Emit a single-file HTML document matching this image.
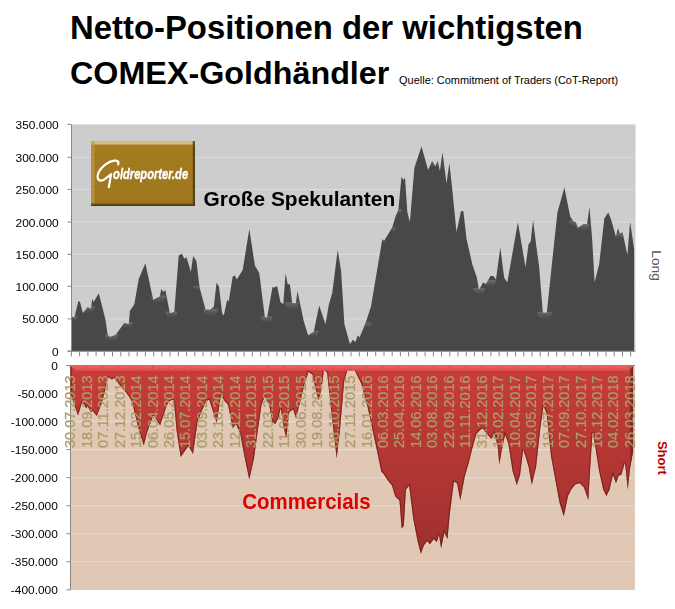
<!DOCTYPE html>
<html><head><meta charset="utf-8"><style>
html,body{margin:0;padding:0;background:#fff;width:675px;height:609px;overflow:hidden}
svg{display:block;font-family:"Liberation Sans",sans-serif}
</style></head><body>
<svg width="675" height="609" viewBox="0 0 675 609">
<defs>
<linearGradient id="rg" gradientUnits="userSpaceOnUse" x1="0" y1="368" x2="0" y2="560"><stop offset="0" stop-color="#c83c39"/><stop offset="1" stop-color="#9c302e"/></linearGradient>
<linearGradient id="lg" x1="0" y1="0" x2="0" y2="1"><stop offset="0" stop-color="#a47b20"/><stop offset="1" stop-color="#9e771d"/></linearGradient>
<linearGradient id="lgb" x1="0" y1="0" x2="0" y2="1"><stop offset="0" stop-color="#9e771d" stop-opacity="0"/><stop offset="1" stop-color="#1a1000"/></linearGradient>
<linearGradient id="lgr" x1="0" y1="0" x2="1" y2="0"><stop offset="0" stop-color="#9e771d" stop-opacity="0"/><stop offset="1" stop-color="#1a1000"/></linearGradient>
<filter id="sh" x="-5%" y="-5%" width="110%" height="110%"><feGaussianBlur stdDeviation="0.6"/></filter>
</defs>
<text x="70.1" y="38.9" font-family="Liberation Sans" font-weight="bold" font-size="32.42" textLength="512.82" lengthAdjust="spacingAndGlyphs" fill="#000">Netto-Positionen der wichtigsten</text>
<text x="70.05" y="83.5" font-family="Liberation Sans" font-weight="bold" font-size="32" textLength="319.3" lengthAdjust="spacingAndGlyphs" fill="#000">COMEX-Goldhändler</text>
<text x="399.1" y="83.9" font-family="Liberation Sans" font-size="10.2" textLength="219.07" lengthAdjust="spacingAndGlyphs" fill="#000">Quelle: Commitment of Traders (CoT-Report)</text>
<rect x="71.5" y="124.4" width="564.0" height="226.79999999999998" fill="#cdcdcd"/>
<line x1="71.5" y1="318.9" x2="635.5" y2="318.9" stroke="#dadada" stroke-width="1.2"/>
<line x1="71.5" y1="286.3" x2="635.5" y2="286.3" stroke="#dadada" stroke-width="1.2"/>
<line x1="71.5" y1="254.4" x2="635.5" y2="254.4" stroke="#dadada" stroke-width="1.2"/>
<line x1="71.5" y1="222.1" x2="635.5" y2="222.1" stroke="#dadada" stroke-width="1.2"/>
<line x1="71.5" y1="189.4" x2="635.5" y2="189.4" stroke="#dadada" stroke-width="1.2"/>
<line x1="71.5" y1="157.3" x2="635.5" y2="157.3" stroke="#dadada" stroke-width="1.2"/>
<path d="M71.5,351.2 L71.5,316.5 L74.4,317.6 L78.4,301.0 L80.0,302.0 L82.9,313.0 L87.7,307.2 L91.0,308.7 L92.2,298.8 L93.7,302.0 L98.8,293.2 L105.5,319.8 L107.7,335.3 L110.0,337.1 L115.5,334.9 L124.3,323.1 L128.8,324.3 L129.9,311.0 L134.3,304.3 L138.8,278.8 L145.4,263.3 L153.2,299.9 L159.8,296.5 L161.4,288.8 L163.2,292.1 L165.4,289.9 L169.8,313.2 L174.3,312.1 L178.7,255.5 L182.0,253.7 L184.2,258.8 L186.5,257.3 L190.9,272.1 L193.1,255.9 L196.4,261.0 L199.6,287.5 L205.6,309.8 L210.5,309.8 L213.9,306.5 L216.5,282.8 L219.0,286.5 L222.1,313.2 L223.8,315.4 L227.2,299.4 L228.7,301.6 L232.7,276.6 L234.9,275.5 L236.7,279.5 L242.7,269.9 L249.3,228.9 L254.9,265.5 L259.3,273.2 L264.9,317.6 L267.1,317.6 L272.6,286.5 L273.7,287.7 L277.1,286.1 L280.4,302.1 L283.3,304.3 L285.5,273.2 L287.7,284.3 L289.9,284.3 L292.2,303.2 L295.9,303.2 L297.5,291.0 L298.8,297.6 L303.7,320.9 L308.1,335.3 L313.7,332.0 L319.2,305.4 L325.5,324.3 L328.9,304.3 L332.2,293.2 L337.7,249.9 L341.1,271.0 L344.4,324.3 L350.0,344.2 L352.8,339.8 L355.5,342.0 L357.7,335.3 L359.5,337.6 L365.5,323.2 L371.0,306.5 L378.8,259.9 L382.4,238.9 L384.0,241.1 L392.2,227.6 L395.5,216.5 L398.4,209.9 L401.5,176.6 L403.3,179.9 L405.0,177.7 L407.3,212.1 L409.9,222.1 L414.4,167.7 L421.5,146.6 L428.1,169.9 L432.1,161.1 L435.4,166.6 L437.7,161.1 L439.9,171.0 L442.5,152.2 L446.5,183.2 L449.4,163.3 L452.1,187.7 L456.5,232.0 L461.0,211.0 L463.4,211.3 L466.5,238.7 L472.3,264.2 L476.9,277.8 L479.0,290.0 L483.0,282.4 L486.0,283.9 L490.6,275.7 L493.6,276.3 L496.0,279.4 L500.3,247.5 L504.2,277.8 L507.3,282.4 L517.9,222.2 L525.5,267.2 L528.5,244.4 L530.7,241.4 L533.1,220.1 L536.1,244.4 L539.2,267.2 L542.8,312.8 L546.8,312.8 L551.9,264.2 L557.4,212.5 L564.4,187.6 L570.2,216.6 L573.4,221.6 L575.8,222.2 L577.9,227.7 L584.0,224.0 L587.0,224.6 L589.5,207.0 L592.2,239.8 L594.6,282.3 L599.2,264.1 L604.3,218.6 L608.3,212.5 L611.3,220.1 L615.9,236.8 L618.0,228.3 L619.8,233.7 L622.5,232.2 L627.4,255.0 L630.1,221.6 L634.1,248.9 L634.1,351.2 Z" fill="#484848"/>
<clipPath id="tc"><path d="M71.5,351.2 L71.5,316.5 L74.4,317.6 L78.4,301.0 L80.0,302.0 L82.9,313.0 L87.7,307.2 L91.0,308.7 L92.2,298.8 L93.7,302.0 L98.8,293.2 L105.5,319.8 L107.7,335.3 L110.0,337.1 L115.5,334.9 L124.3,323.1 L128.8,324.3 L129.9,311.0 L134.3,304.3 L138.8,278.8 L145.4,263.3 L153.2,299.9 L159.8,296.5 L161.4,288.8 L163.2,292.1 L165.4,289.9 L169.8,313.2 L174.3,312.1 L178.7,255.5 L182.0,253.7 L184.2,258.8 L186.5,257.3 L190.9,272.1 L193.1,255.9 L196.4,261.0 L199.6,287.5 L205.6,309.8 L210.5,309.8 L213.9,306.5 L216.5,282.8 L219.0,286.5 L222.1,313.2 L223.8,315.4 L227.2,299.4 L228.7,301.6 L232.7,276.6 L234.9,275.5 L236.7,279.5 L242.7,269.9 L249.3,228.9 L254.9,265.5 L259.3,273.2 L264.9,317.6 L267.1,317.6 L272.6,286.5 L273.7,287.7 L277.1,286.1 L280.4,302.1 L283.3,304.3 L285.5,273.2 L287.7,284.3 L289.9,284.3 L292.2,303.2 L295.9,303.2 L297.5,291.0 L298.8,297.6 L303.7,320.9 L308.1,335.3 L313.7,332.0 L319.2,305.4 L325.5,324.3 L328.9,304.3 L332.2,293.2 L337.7,249.9 L341.1,271.0 L344.4,324.3 L350.0,344.2 L352.8,339.8 L355.5,342.0 L357.7,335.3 L359.5,337.6 L365.5,323.2 L371.0,306.5 L378.8,259.9 L382.4,238.9 L384.0,241.1 L392.2,227.6 L395.5,216.5 L398.4,209.9 L401.5,176.6 L403.3,179.9 L405.0,177.7 L407.3,212.1 L409.9,222.1 L414.4,167.7 L421.5,146.6 L428.1,169.9 L432.1,161.1 L435.4,166.6 L437.7,161.1 L439.9,171.0 L442.5,152.2 L446.5,183.2 L449.4,163.3 L452.1,187.7 L456.5,232.0 L461.0,211.0 L463.4,211.3 L466.5,238.7 L472.3,264.2 L476.9,277.8 L479.0,290.0 L483.0,282.4 L486.0,283.9 L490.6,275.7 L493.6,276.3 L496.0,279.4 L500.3,247.5 L504.2,277.8 L507.3,282.4 L517.9,222.2 L525.5,267.2 L528.5,244.4 L530.7,241.4 L533.1,220.1 L536.1,244.4 L539.2,267.2 L542.8,312.8 L546.8,312.8 L551.9,264.2 L557.4,212.5 L564.4,187.6 L570.2,216.6 L573.4,221.6 L575.8,222.2 L577.9,227.7 L584.0,224.0 L587.0,224.6 L589.5,207.0 L592.2,239.8 L594.6,282.3 L599.2,264.1 L604.3,218.6 L608.3,212.5 L611.3,220.1 L615.9,236.8 L618.0,228.3 L619.8,233.7 L622.5,232.2 L627.4,255.0 L630.1,221.6 L634.1,248.9 L634.1,351.2 Z"/></clipPath>
<defs><linearGradient id="hl" x1="0" y1="0" x2="0" y2="1"><stop offset="0" stop-color="#7e7e7e" stop-opacity="1"/><stop offset="0.55" stop-color="#606060" stop-opacity="0.7"/><stop offset="1" stop-color="#484848" stop-opacity="0"/></linearGradient><filter id="hb"><feGaussianBlur stdDeviation="0.7"/></filter></defs>
<g clip-path="url(#tc)"><g filter="url(#hb)">
<path d="M70.7,316.5 A3.5,5.0 0 0 0 77.8,316.5 Z" fill="url(#hl)" opacity="0.65"/>
<path d="M82.7,306.5 A6.0,7.9 0 0 0 94.8,306.5 Z" fill="url(#hl)" opacity="0.65"/>
<path d="M105.2,334.0 A6.5,8.6 0 0 0 118.3,334.0 Z" fill="url(#hl)" opacity="0.65"/>
<path d="M122.2,322.1 A5.3,6.8 0 0 0 132.8,322.1 Z" fill="url(#hl)" opacity="0.65"/>
<path d="M151.2,295.5 A7.3,9.0 0 0 0 165.8,295.5 Z" fill="url(#hl)" opacity="0.65"/>
<path d="M165.7,311.5 A5.8,7.5 0 0 0 177.3,311.5 Z" fill="url(#hl)" opacity="0.65"/>
<path d="M193.2,286.0 A3.8,5.0 0 0 0 200.8,286.0 Z" fill="url(#hl)" opacity="0.65"/>
<path d="M203.2,308.8 A7.3,9.0 0 0 0 217.8,308.8 Z" fill="url(#hl)" opacity="0.65"/>
<path d="M260.7,316.6 A5.8,7.5 0 0 0 272.3,316.6 Z" fill="url(#hl)" opacity="0.65"/>
<path d="M285.2,302.2 A6.8,9.0 0 0 0 298.8,302.2 Z" fill="url(#hl)" opacity="0.65"/>
<path d="M307.2,331.0 A5.8,7.5 0 0 0 318.8,331.0 Z" fill="url(#hl)" opacity="0.65"/>
<path d="M362.2,322.5 A4.8,6.0 0 0 0 371.8,322.5 Z" fill="url(#hl)" opacity="0.65"/>
<path d="M388.2,227.5 A3.8,5.0 0 0 0 395.8,227.5 Z" fill="url(#hl)" opacity="0.65"/>
<path d="M391.2,209.0 A5.3,6.8 0 0 0 401.8,209.0 Z" fill="url(#hl)" opacity="0.65"/>
<path d="M428.2,162.0 A4.5,5.6 0 0 0 437.3,162.0 Z" fill="url(#hl)" opacity="0.65"/>
<path d="M473.2,288.0 A5.8,7.5 0 0 0 484.8,288.0 Z" fill="url(#hl)" opacity="0.65"/>
<path d="M483.2,280.0 A6.3,8.2 0 0 0 495.8,280.0 Z" fill="url(#hl)" opacity="0.65"/>
<path d="M537.2,311.8 A7.3,9.0 0 0 0 551.8,311.8 Z" fill="url(#hl)" opacity="0.65"/>
<path d="M568.8,220.5 A5.0,6.3 0 0 0 578.8,220.5 Z" fill="url(#hl)" opacity="0.65"/>
<path d="M575.2,223.5 A7.3,9.0 0 0 0 589.8,223.5 Z" fill="url(#hl)" opacity="0.65"/>
<path d="M615.2,233.0 A5.3,6.8 0 0 0 625.8,233.0 Z" fill="url(#hl)" opacity="0.65"/>
</g>
</g>
<line x1="71.5" y1="124.4" x2="71.5" y2="351.2" stroke="#868686" stroke-width="1"/>
<line x1="67.5" y1="351.2" x2="635.5" y2="351.2" stroke="#868686" stroke-width="1"/>
<line x1="67.5" y1="351.2" x2="71.5" y2="351.2" stroke="#868686" stroke-width="1"/>
<line x1="67.5" y1="318.9" x2="71.5" y2="318.9" stroke="#868686" stroke-width="1"/>
<line x1="67.5" y1="286.3" x2="71.5" y2="286.3" stroke="#868686" stroke-width="1"/>
<line x1="67.5" y1="254.4" x2="71.5" y2="254.4" stroke="#868686" stroke-width="1"/>
<line x1="67.5" y1="222.1" x2="71.5" y2="222.1" stroke="#868686" stroke-width="1"/>
<line x1="67.5" y1="189.4" x2="71.5" y2="189.4" stroke="#868686" stroke-width="1"/>
<line x1="67.5" y1="157.3" x2="71.5" y2="157.3" stroke="#868686" stroke-width="1"/>
<line x1="67.5" y1="124.4" x2="71.5" y2="124.4" stroke="#868686" stroke-width="1"/>
<line x1="71.4" y1="351.2" x2="71.4" y2="356.4" stroke="#868686" stroke-width="1"/>
<line x1="79.6" y1="351.2" x2="79.6" y2="356.4" stroke="#868686" stroke-width="1"/>
<line x1="87.9" y1="351.2" x2="87.9" y2="356.4" stroke="#868686" stroke-width="1"/>
<line x1="96.1" y1="351.2" x2="96.1" y2="356.4" stroke="#868686" stroke-width="1"/>
<line x1="104.3" y1="351.2" x2="104.3" y2="356.4" stroke="#868686" stroke-width="1"/>
<line x1="112.5" y1="351.2" x2="112.5" y2="356.4" stroke="#868686" stroke-width="1"/>
<line x1="120.8" y1="351.2" x2="120.8" y2="356.4" stroke="#868686" stroke-width="1"/>
<line x1="129.0" y1="351.2" x2="129.0" y2="356.4" stroke="#868686" stroke-width="1"/>
<line x1="137.2" y1="351.2" x2="137.2" y2="356.4" stroke="#868686" stroke-width="1"/>
<line x1="145.4" y1="351.2" x2="145.4" y2="356.4" stroke="#868686" stroke-width="1"/>
<line x1="153.7" y1="351.2" x2="153.7" y2="356.4" stroke="#868686" stroke-width="1"/>
<line x1="161.9" y1="351.2" x2="161.9" y2="356.4" stroke="#868686" stroke-width="1"/>
<line x1="170.1" y1="351.2" x2="170.1" y2="356.4" stroke="#868686" stroke-width="1"/>
<line x1="178.3" y1="351.2" x2="178.3" y2="356.4" stroke="#868686" stroke-width="1"/>
<line x1="186.6" y1="351.2" x2="186.6" y2="356.4" stroke="#868686" stroke-width="1"/>
<line x1="194.8" y1="351.2" x2="194.8" y2="356.4" stroke="#868686" stroke-width="1"/>
<line x1="203.0" y1="351.2" x2="203.0" y2="356.4" stroke="#868686" stroke-width="1"/>
<line x1="211.2" y1="351.2" x2="211.2" y2="356.4" stroke="#868686" stroke-width="1"/>
<line x1="219.4" y1="351.2" x2="219.4" y2="356.4" stroke="#868686" stroke-width="1"/>
<line x1="227.7" y1="351.2" x2="227.7" y2="356.4" stroke="#868686" stroke-width="1"/>
<line x1="235.9" y1="351.2" x2="235.9" y2="356.4" stroke="#868686" stroke-width="1"/>
<line x1="244.1" y1="351.2" x2="244.1" y2="356.4" stroke="#868686" stroke-width="1"/>
<line x1="252.3" y1="351.2" x2="252.3" y2="356.4" stroke="#868686" stroke-width="1"/>
<line x1="260.6" y1="351.2" x2="260.6" y2="356.4" stroke="#868686" stroke-width="1"/>
<line x1="268.8" y1="351.2" x2="268.8" y2="356.4" stroke="#868686" stroke-width="1"/>
<line x1="277.0" y1="351.2" x2="277.0" y2="356.4" stroke="#868686" stroke-width="1"/>
<line x1="285.2" y1="351.2" x2="285.2" y2="356.4" stroke="#868686" stroke-width="1"/>
<line x1="293.5" y1="351.2" x2="293.5" y2="356.4" stroke="#868686" stroke-width="1"/>
<line x1="301.7" y1="351.2" x2="301.7" y2="356.4" stroke="#868686" stroke-width="1"/>
<line x1="309.9" y1="351.2" x2="309.9" y2="356.4" stroke="#868686" stroke-width="1"/>
<line x1="318.1" y1="351.2" x2="318.1" y2="356.4" stroke="#868686" stroke-width="1"/>
<line x1="326.4" y1="351.2" x2="326.4" y2="356.4" stroke="#868686" stroke-width="1"/>
<line x1="334.6" y1="351.2" x2="334.6" y2="356.4" stroke="#868686" stroke-width="1"/>
<line x1="342.8" y1="351.2" x2="342.8" y2="356.4" stroke="#868686" stroke-width="1"/>
<line x1="351.0" y1="351.2" x2="351.0" y2="356.4" stroke="#868686" stroke-width="1"/>
<line x1="359.3" y1="351.2" x2="359.3" y2="356.4" stroke="#868686" stroke-width="1"/>
<line x1="367.5" y1="351.2" x2="367.5" y2="356.4" stroke="#868686" stroke-width="1"/>
<line x1="375.7" y1="351.2" x2="375.7" y2="356.4" stroke="#868686" stroke-width="1"/>
<line x1="384.0" y1="351.2" x2="384.0" y2="356.4" stroke="#868686" stroke-width="1"/>
<line x1="392.2" y1="351.2" x2="392.2" y2="356.4" stroke="#868686" stroke-width="1"/>
<line x1="400.4" y1="351.2" x2="400.4" y2="356.4" stroke="#868686" stroke-width="1"/>
<line x1="408.6" y1="351.2" x2="408.6" y2="356.4" stroke="#868686" stroke-width="1"/>
<line x1="416.9" y1="351.2" x2="416.9" y2="356.4" stroke="#868686" stroke-width="1"/>
<line x1="425.1" y1="351.2" x2="425.1" y2="356.4" stroke="#868686" stroke-width="1"/>
<line x1="433.3" y1="351.2" x2="433.3" y2="356.4" stroke="#868686" stroke-width="1"/>
<line x1="441.5" y1="351.2" x2="441.5" y2="356.4" stroke="#868686" stroke-width="1"/>
<line x1="449.8" y1="351.2" x2="449.8" y2="356.4" stroke="#868686" stroke-width="1"/>
<line x1="458.0" y1="351.2" x2="458.0" y2="356.4" stroke="#868686" stroke-width="1"/>
<line x1="466.2" y1="351.2" x2="466.2" y2="356.4" stroke="#868686" stroke-width="1"/>
<line x1="474.4" y1="351.2" x2="474.4" y2="356.4" stroke="#868686" stroke-width="1"/>
<line x1="482.6" y1="351.2" x2="482.6" y2="356.4" stroke="#868686" stroke-width="1"/>
<line x1="490.9" y1="351.2" x2="490.9" y2="356.4" stroke="#868686" stroke-width="1"/>
<line x1="499.1" y1="351.2" x2="499.1" y2="356.4" stroke="#868686" stroke-width="1"/>
<line x1="507.3" y1="351.2" x2="507.3" y2="356.4" stroke="#868686" stroke-width="1"/>
<line x1="515.5" y1="351.2" x2="515.5" y2="356.4" stroke="#868686" stroke-width="1"/>
<line x1="523.8" y1="351.2" x2="523.8" y2="356.4" stroke="#868686" stroke-width="1"/>
<line x1="532.0" y1="351.2" x2="532.0" y2="356.4" stroke="#868686" stroke-width="1"/>
<line x1="540.2" y1="351.2" x2="540.2" y2="356.4" stroke="#868686" stroke-width="1"/>
<line x1="548.4" y1="351.2" x2="548.4" y2="356.4" stroke="#868686" stroke-width="1"/>
<line x1="556.7" y1="351.2" x2="556.7" y2="356.4" stroke="#868686" stroke-width="1"/>
<line x1="564.9" y1="351.2" x2="564.9" y2="356.4" stroke="#868686" stroke-width="1"/>
<line x1="573.1" y1="351.2" x2="573.1" y2="356.4" stroke="#868686" stroke-width="1"/>
<line x1="581.4" y1="351.2" x2="581.4" y2="356.4" stroke="#868686" stroke-width="1"/>
<line x1="589.6" y1="351.2" x2="589.6" y2="356.4" stroke="#868686" stroke-width="1"/>
<line x1="597.8" y1="351.2" x2="597.8" y2="356.4" stroke="#868686" stroke-width="1"/>
<line x1="606.0" y1="351.2" x2="606.0" y2="356.4" stroke="#868686" stroke-width="1"/>
<line x1="614.2" y1="351.2" x2="614.2" y2="356.4" stroke="#868686" stroke-width="1"/>
<line x1="622.5" y1="351.2" x2="622.5" y2="356.4" stroke="#868686" stroke-width="1"/>
<line x1="630.7" y1="351.2" x2="630.7" y2="356.4" stroke="#868686" stroke-width="1"/>
<text x="52.06" y="355.7" font-family="Liberation Sans" font-size="10.2" textLength="6.64" lengthAdjust="spacingAndGlyphs" fill="#000">0</text>
<text x="22.21" y="323.4" font-family="Liberation Sans" font-size="10.2" textLength="36.49" lengthAdjust="spacingAndGlyphs" fill="#000">50.000</text>
<text x="15.57" y="290.8" font-family="Liberation Sans" font-size="10.2" textLength="43.13" lengthAdjust="spacingAndGlyphs" fill="#000">100.000</text>
<text x="15.57" y="258.9" font-family="Liberation Sans" font-size="10.2" textLength="43.13" lengthAdjust="spacingAndGlyphs" fill="#000">150.000</text>
<text x="15.57" y="226.6" font-family="Liberation Sans" font-size="10.2" textLength="43.13" lengthAdjust="spacingAndGlyphs" fill="#000">200.000</text>
<text x="15.57" y="193.9" font-family="Liberation Sans" font-size="10.2" textLength="43.13" lengthAdjust="spacingAndGlyphs" fill="#000">250.000</text>
<text x="15.57" y="161.8" font-family="Liberation Sans" font-size="10.2" textLength="43.13" lengthAdjust="spacingAndGlyphs" fill="#000">300.000</text>
<text x="15.57" y="128.9" font-family="Liberation Sans" font-size="10.2" textLength="43.13" lengthAdjust="spacingAndGlyphs" fill="#000">350.000</text>
<rect x="70.5" y="365.5" width="564.4" height="224.39999999999998" fill="#e0c8b4"/>
<line x1="70.5" y1="394.4" x2="634.9" y2="394.4" stroke="#d6c8bc" stroke-width="1"/>
<line x1="70.5" y1="393.6" x2="634.9" y2="393.6" stroke="#e6dcd2" stroke-width="1.1"/>
<line x1="70.5" y1="422.5" x2="634.9" y2="422.5" stroke="#d6c8bc" stroke-width="1"/>
<line x1="70.5" y1="421.6" x2="634.9" y2="421.6" stroke="#e6dcd2" stroke-width="1.1"/>
<line x1="70.5" y1="450.5" x2="634.9" y2="450.5" stroke="#d6c8bc" stroke-width="1"/>
<line x1="70.5" y1="449.6" x2="634.9" y2="449.6" stroke="#e6dcd2" stroke-width="1.1"/>
<line x1="70.5" y1="478.6" x2="634.9" y2="478.6" stroke="#d6c8bc" stroke-width="1"/>
<line x1="70.5" y1="477.7" x2="634.9" y2="477.7" stroke="#e6dcd2" stroke-width="1.1"/>
<line x1="70.5" y1="506.6" x2="634.9" y2="506.6" stroke="#d6c8bc" stroke-width="1"/>
<line x1="70.5" y1="505.8" x2="634.9" y2="505.8" stroke="#e6dcd2" stroke-width="1.1"/>
<line x1="70.5" y1="534.7" x2="634.9" y2="534.7" stroke="#d6c8bc" stroke-width="1"/>
<line x1="70.5" y1="533.8" x2="634.9" y2="533.8" stroke="#e6dcd2" stroke-width="1.1"/>
<line x1="70.5" y1="562.7" x2="634.9" y2="562.7" stroke="#d6c8bc" stroke-width="1"/>
<line x1="70.5" y1="561.8" x2="634.9" y2="561.8" stroke="#e6dcd2" stroke-width="1.1"/>
<line x1="70.5" y1="365.5" x2="70.5" y2="589.9" stroke="#868686" stroke-width="1"/>
<clipPath id="bc"><path d="M70.5,365.5 L70.5,393.0 L74.4,405.0 L78.1,415.5 L81.9,402.7 L84.5,404.8 L86.1,408.6 L87.7,405.9 L90.9,412.3 L92.5,410.7 L96.8,416.0 L101.1,404.8 L104.8,392.0 L107.0,381.3 L108.6,377.6 L110.2,378.1 L111.8,379.7 L113.9,378.1 L116.0,379.7 L119.2,384.5 L122.4,388.3 L125.6,392.0 L128.8,396.3 L132.0,401.6 L138.4,428.3 L143.8,445.4 L147.0,432.6 L153.5,415.0 L160.1,425.5 L164.5,412.0 L168.2,401.9 L172.6,399.5 L174.1,402.8 L176.6,430.7 L180.7,457.0 L185.6,450.0 L188.5,446.0 L193.0,454.0 L197.5,421.9 L201.7,411.2 L206.0,401.6 L209.2,399.5 L211.3,405.9 L216.7,423.0 L221.0,394.2 L224.2,400.6 L228.0,404.8 L232.7,428.3 L235.9,424.0 L240.2,433.6 L244.4,456.1 L249.3,479.5 L254.0,458.2 L257.2,434.7 L261.5,404.8 L264.7,396.3 L269.0,403.8 L272.2,421.9 L275.4,424.0 L278.6,417.6 L280.7,408.0 L283.9,428.0 L286.2,438.0 L289.2,412.3 L293.1,409.3 L296.1,418.5 L299.9,402.7 L304.2,385.6 L308.5,371.7 L312.7,374.9 L314.3,383.5 L318.5,400.6 L321.7,387.7 L323.9,369.6 L327.1,372.8 L331.3,411.2 L336.7,458.2 L339.9,430.4 L344.2,381.3 L348.4,366.4 L351.0,370.7 L353.8,367.5 L355.9,372.8 L361.2,383.5 L367.6,407.0 L374.0,436.8 L377.1,451.3 L381.3,471.6 L383.5,473.8 L387.7,480.2 L392.0,485.5 L395.2,496.2 L399.5,500.4 L401.6,528.2 L403.8,526.0 L405.9,489.8 L409.1,485.5 L413.4,519.6 L417.6,541.0 L420.8,553.8 L424.0,545.3 L427.2,541.0 L430.0,544.2 L433.6,538.9 L436.8,542.1 L439.0,534.6 L441.1,548.5 L444.3,532.5 L447.5,538.9 L449.6,515.4 L453.9,481.2 L457.1,483.4 L460.3,500.4 L464.6,477.0 L468.9,462.0 L472.1,449.2 L476.3,434.3 L479.5,430.4 L482.7,428.3 L485.9,432.6 L491.2,439.0 L494.4,433.6 L497.6,445.4 L499.3,464.6 L501.9,449.6 L505.1,434.7 L508.3,443.2 L512.6,471.0 L516.8,484.9 L520.0,475.3 L523.2,449.6 L525.4,456.1 L528.6,466.7 L531.8,484.8 L536.1,466.7 L540.3,428.3 L543.5,405.9 L546.7,413.4 L551.0,456.1 L555.3,479.5 L559.5,502.5 L563.8,516.3 L568.0,496.0 L571.2,489.6 L575.5,484.3 L579.8,483.2 L584.0,487.5 L588.3,500.3 L590.4,464.0 L592.6,432.0 L594.7,442.7 L599.0,470.4 L603.2,489.6 L606.4,496.0 L609.6,489.6 L612.9,474.7 L616.0,483.2 L618.6,475.8 L621.4,474.7 L625.0,461.9 L627.8,489.6 L630.0,468.3 L633.1,451.2 L633.1,365.5 Z"/></clipPath>
<path d="M70.5,365.5 L70.5,393.0 L74.4,405.0 L78.1,415.5 L81.9,402.7 L84.5,404.8 L86.1,408.6 L87.7,405.9 L90.9,412.3 L92.5,410.7 L96.8,416.0 L101.1,404.8 L104.8,392.0 L107.0,381.3 L108.6,377.6 L110.2,378.1 L111.8,379.7 L113.9,378.1 L116.0,379.7 L119.2,384.5 L122.4,388.3 L125.6,392.0 L128.8,396.3 L132.0,401.6 L138.4,428.3 L143.8,445.4 L147.0,432.6 L153.5,415.0 L160.1,425.5 L164.5,412.0 L168.2,401.9 L172.6,399.5 L174.1,402.8 L176.6,430.7 L180.7,457.0 L185.6,450.0 L188.5,446.0 L193.0,454.0 L197.5,421.9 L201.7,411.2 L206.0,401.6 L209.2,399.5 L211.3,405.9 L216.7,423.0 L221.0,394.2 L224.2,400.6 L228.0,404.8 L232.7,428.3 L235.9,424.0 L240.2,433.6 L244.4,456.1 L249.3,479.5 L254.0,458.2 L257.2,434.7 L261.5,404.8 L264.7,396.3 L269.0,403.8 L272.2,421.9 L275.4,424.0 L278.6,417.6 L280.7,408.0 L283.9,428.0 L286.2,438.0 L289.2,412.3 L293.1,409.3 L296.1,418.5 L299.9,402.7 L304.2,385.6 L308.5,371.7 L312.7,374.9 L314.3,383.5 L318.5,400.6 L321.7,387.7 L323.9,369.6 L327.1,372.8 L331.3,411.2 L336.7,458.2 L339.9,430.4 L344.2,381.3 L348.4,366.4 L351.0,370.7 L353.8,367.5 L355.9,372.8 L361.2,383.5 L367.6,407.0 L374.0,436.8 L377.1,451.3 L381.3,471.6 L383.5,473.8 L387.7,480.2 L392.0,485.5 L395.2,496.2 L399.5,500.4 L401.6,528.2 L403.8,526.0 L405.9,489.8 L409.1,485.5 L413.4,519.6 L417.6,541.0 L420.8,553.8 L424.0,545.3 L427.2,541.0 L430.0,544.2 L433.6,538.9 L436.8,542.1 L439.0,534.6 L441.1,548.5 L444.3,532.5 L447.5,538.9 L449.6,515.4 L453.9,481.2 L457.1,483.4 L460.3,500.4 L464.6,477.0 L468.9,462.0 L472.1,449.2 L476.3,434.3 L479.5,430.4 L482.7,428.3 L485.9,432.6 L491.2,439.0 L494.4,433.6 L497.6,445.4 L499.3,464.6 L501.9,449.6 L505.1,434.7 L508.3,443.2 L512.6,471.0 L516.8,484.9 L520.0,475.3 L523.2,449.6 L525.4,456.1 L528.6,466.7 L531.8,484.8 L536.1,466.7 L540.3,428.3 L543.5,405.9 L546.7,413.4 L551.0,456.1 L555.3,479.5 L559.5,502.5 L563.8,516.3 L568.0,496.0 L571.2,489.6 L575.5,484.3 L579.8,483.2 L584.0,487.5 L588.3,500.3 L590.4,464.0 L592.6,432.0 L594.7,442.7 L599.0,470.4 L603.2,489.6 L606.4,496.0 L609.6,489.6 L612.9,474.7 L616.0,483.2 L618.6,475.8 L621.4,474.7 L625.0,461.9 L627.8,489.6 L630.0,468.3 L633.1,451.2 L633.1,365.5 Z" fill="url(#rg)"/>
<g clip-path="url(#bc)"><path d="M70.5,365.5 L70.5,393.0 L74.4,405.0 L78.1,415.5 L81.9,402.7 L84.5,404.8 L86.1,408.6 L87.7,405.9 L90.9,412.3 L92.5,410.7 L96.8,416.0 L101.1,404.8 L104.8,392.0 L107.0,381.3 L108.6,377.6 L110.2,378.1 L111.8,379.7 L113.9,378.1 L116.0,379.7 L119.2,384.5 L122.4,388.3 L125.6,392.0 L128.8,396.3 L132.0,401.6 L138.4,428.3 L143.8,445.4 L147.0,432.6 L153.5,415.0 L160.1,425.5 L164.5,412.0 L168.2,401.9 L172.6,399.5 L174.1,402.8 L176.6,430.7 L180.7,457.0 L185.6,450.0 L188.5,446.0 L193.0,454.0 L197.5,421.9 L201.7,411.2 L206.0,401.6 L209.2,399.5 L211.3,405.9 L216.7,423.0 L221.0,394.2 L224.2,400.6 L228.0,404.8 L232.7,428.3 L235.9,424.0 L240.2,433.6 L244.4,456.1 L249.3,479.5 L254.0,458.2 L257.2,434.7 L261.5,404.8 L264.7,396.3 L269.0,403.8 L272.2,421.9 L275.4,424.0 L278.6,417.6 L280.7,408.0 L283.9,428.0 L286.2,438.0 L289.2,412.3 L293.1,409.3 L296.1,418.5 L299.9,402.7 L304.2,385.6 L308.5,371.7 L312.7,374.9 L314.3,383.5 L318.5,400.6 L321.7,387.7 L323.9,369.6 L327.1,372.8 L331.3,411.2 L336.7,458.2 L339.9,430.4 L344.2,381.3 L348.4,366.4 L351.0,370.7 L353.8,367.5 L355.9,372.8 L361.2,383.5 L367.6,407.0 L374.0,436.8 L377.1,451.3 L381.3,471.6 L383.5,473.8 L387.7,480.2 L392.0,485.5 L395.2,496.2 L399.5,500.4 L401.6,528.2 L403.8,526.0 L405.9,489.8 L409.1,485.5 L413.4,519.6 L417.6,541.0 L420.8,553.8 L424.0,545.3 L427.2,541.0 L430.0,544.2 L433.6,538.9 L436.8,542.1 L439.0,534.6 L441.1,548.5 L444.3,532.5 L447.5,538.9 L449.6,515.4 L453.9,481.2 L457.1,483.4 L460.3,500.4 L464.6,477.0 L468.9,462.0 L472.1,449.2 L476.3,434.3 L479.5,430.4 L482.7,428.3 L485.9,432.6 L491.2,439.0 L494.4,433.6 L497.6,445.4 L499.3,464.6 L501.9,449.6 L505.1,434.7 L508.3,443.2 L512.6,471.0 L516.8,484.9 L520.0,475.3 L523.2,449.6 L525.4,456.1 L528.6,466.7 L531.8,484.8 L536.1,466.7 L540.3,428.3 L543.5,405.9 L546.7,413.4 L551.0,456.1 L555.3,479.5 L559.5,502.5 L563.8,516.3 L568.0,496.0 L571.2,489.6 L575.5,484.3 L579.8,483.2 L584.0,487.5 L588.3,500.3 L590.4,464.0 L592.6,432.0 L594.7,442.7 L599.0,470.4 L603.2,489.6 L606.4,496.0 L609.6,489.6 L612.9,474.7 L616.0,483.2 L618.6,475.8 L621.4,474.7 L625.0,461.9 L627.8,489.6 L630.0,468.3 L633.1,451.2 L633.1,365.5 Z" fill="none" stroke="#6a1a18" stroke-width="2.2" filter="url(#sh)" opacity="0.7"/>
<rect x="630.2" y="365.5" width="3" height="230" fill="#7a2220" filter="url(#sh)" opacity="0.8"/></g>
<defs><linearGradient id="band" x1="0" y1="0" x2="0" y2="1"><stop offset="0" stop-color="#ee6660"/><stop offset="1" stop-color="#dc4c4a"/></linearGradient></defs>
<polygon points="70.5,365.5 633.1,365.5 633.1,366 628.5,370.8 75.5,370.8 70.5,366" fill="url(#band)"/>
<line x1="70.2" y1="365.5" x2="70.2" y2="369" stroke="#8a5050" stroke-width="0.8" opacity="0.6"/>
<line x1="86.7" y1="365.5" x2="86.7" y2="369" stroke="#8a5050" stroke-width="0.8" opacity="0.6"/>
<line x1="103.1" y1="365.5" x2="103.1" y2="369" stroke="#8a5050" stroke-width="0.8" opacity="0.6"/>
<line x1="119.6" y1="365.5" x2="119.6" y2="369" stroke="#8a5050" stroke-width="0.8" opacity="0.6"/>
<line x1="136.0" y1="365.5" x2="136.0" y2="369" stroke="#8a5050" stroke-width="0.8" opacity="0.6"/>
<line x1="152.5" y1="365.5" x2="152.5" y2="369" stroke="#8a5050" stroke-width="0.8" opacity="0.6"/>
<line x1="169.0" y1="365.5" x2="169.0" y2="369" stroke="#8a5050" stroke-width="0.8" opacity="0.6"/>
<line x1="185.4" y1="365.5" x2="185.4" y2="369" stroke="#8a5050" stroke-width="0.8" opacity="0.6"/>
<line x1="201.9" y1="365.5" x2="201.9" y2="369" stroke="#8a5050" stroke-width="0.8" opacity="0.6"/>
<line x1="218.3" y1="365.5" x2="218.3" y2="369" stroke="#8a5050" stroke-width="0.8" opacity="0.6"/>
<line x1="234.8" y1="365.5" x2="234.8" y2="369" stroke="#8a5050" stroke-width="0.8" opacity="0.6"/>
<line x1="251.3" y1="365.5" x2="251.3" y2="369" stroke="#8a5050" stroke-width="0.8" opacity="0.6"/>
<line x1="267.7" y1="365.5" x2="267.7" y2="369" stroke="#8a5050" stroke-width="0.8" opacity="0.6"/>
<line x1="284.2" y1="365.5" x2="284.2" y2="369" stroke="#8a5050" stroke-width="0.8" opacity="0.6"/>
<line x1="300.6" y1="365.5" x2="300.6" y2="369" stroke="#8a5050" stroke-width="0.8" opacity="0.6"/>
<line x1="317.1" y1="365.5" x2="317.1" y2="369" stroke="#8a5050" stroke-width="0.8" opacity="0.6"/>
<line x1="333.6" y1="365.5" x2="333.6" y2="369" stroke="#8a5050" stroke-width="0.8" opacity="0.6"/>
<line x1="350.0" y1="365.5" x2="350.0" y2="369" stroke="#8a5050" stroke-width="0.8" opacity="0.6"/>
<line x1="366.5" y1="365.5" x2="366.5" y2="369" stroke="#8a5050" stroke-width="0.8" opacity="0.6"/>
<line x1="382.9" y1="365.5" x2="382.9" y2="369" stroke="#8a5050" stroke-width="0.8" opacity="0.6"/>
<line x1="399.4" y1="365.5" x2="399.4" y2="369" stroke="#8a5050" stroke-width="0.8" opacity="0.6"/>
<line x1="415.9" y1="365.5" x2="415.9" y2="369" stroke="#8a5050" stroke-width="0.8" opacity="0.6"/>
<line x1="432.3" y1="365.5" x2="432.3" y2="369" stroke="#8a5050" stroke-width="0.8" opacity="0.6"/>
<line x1="448.8" y1="365.5" x2="448.8" y2="369" stroke="#8a5050" stroke-width="0.8" opacity="0.6"/>
<line x1="465.2" y1="365.5" x2="465.2" y2="369" stroke="#8a5050" stroke-width="0.8" opacity="0.6"/>
<line x1="481.7" y1="365.5" x2="481.7" y2="369" stroke="#8a5050" stroke-width="0.8" opacity="0.6"/>
<line x1="498.2" y1="365.5" x2="498.2" y2="369" stroke="#8a5050" stroke-width="0.8" opacity="0.6"/>
<line x1="514.6" y1="365.5" x2="514.6" y2="369" stroke="#8a5050" stroke-width="0.8" opacity="0.6"/>
<line x1="531.1" y1="365.5" x2="531.1" y2="369" stroke="#8a5050" stroke-width="0.8" opacity="0.6"/>
<line x1="547.5" y1="365.5" x2="547.5" y2="369" stroke="#8a5050" stroke-width="0.8" opacity="0.6"/>
<line x1="564.0" y1="365.5" x2="564.0" y2="369" stroke="#8a5050" stroke-width="0.8" opacity="0.6"/>
<line x1="580.5" y1="365.5" x2="580.5" y2="369" stroke="#8a5050" stroke-width="0.8" opacity="0.6"/>
<line x1="596.9" y1="365.5" x2="596.9" y2="369" stroke="#8a5050" stroke-width="0.8" opacity="0.6"/>
<line x1="613.4" y1="365.5" x2="613.4" y2="369" stroke="#8a5050" stroke-width="0.8" opacity="0.6"/>
<line x1="629.8" y1="365.5" x2="629.8" y2="369" stroke="#8a5050" stroke-width="0.8" opacity="0.6"/>
<line x1="66.5" y1="365.5" x2="634.9" y2="365.5" stroke="#868686" stroke-width="1"/>
<line x1="66.5" y1="365.5" x2="70.5" y2="365.5" stroke="#868686" stroke-width="1"/>
<line x1="66.5" y1="393.6" x2="70.5" y2="393.6" stroke="#868686" stroke-width="1"/>
<line x1="66.5" y1="421.6" x2="70.5" y2="421.6" stroke="#868686" stroke-width="1"/>
<line x1="66.5" y1="449.6" x2="70.5" y2="449.6" stroke="#868686" stroke-width="1"/>
<line x1="66.5" y1="477.7" x2="70.5" y2="477.7" stroke="#868686" stroke-width="1"/>
<line x1="66.5" y1="505.8" x2="70.5" y2="505.8" stroke="#868686" stroke-width="1"/>
<line x1="66.5" y1="533.8" x2="70.5" y2="533.8" stroke="#868686" stroke-width="1"/>
<line x1="66.5" y1="561.8" x2="70.5" y2="561.8" stroke="#868686" stroke-width="1"/>
<line x1="66.5" y1="589.9" x2="70.5" y2="589.9" stroke="#868686" stroke-width="1"/>
<text x="51.26" y="370.0" font-family="Liberation Sans" font-size="10.2" textLength="6.64" lengthAdjust="spacingAndGlyphs" fill="#000">0</text>
<text x="17.43" y="398.1" font-family="Liberation Sans" font-size="10.2" textLength="40.47" lengthAdjust="spacingAndGlyphs" fill="#000">-50.000</text>
<text x="10.80" y="426.1" font-family="Liberation Sans" font-size="10.2" textLength="47.10" lengthAdjust="spacingAndGlyphs" fill="#000">-100.000</text>
<text x="10.80" y="454.1" font-family="Liberation Sans" font-size="10.2" textLength="47.10" lengthAdjust="spacingAndGlyphs" fill="#000">-150.000</text>
<text x="10.80" y="482.2" font-family="Liberation Sans" font-size="10.2" textLength="47.10" lengthAdjust="spacingAndGlyphs" fill="#000">-200.000</text>
<text x="10.80" y="510.2" font-family="Liberation Sans" font-size="10.2" textLength="47.10" lengthAdjust="spacingAndGlyphs" fill="#000">-250.000</text>
<text x="10.80" y="538.3" font-family="Liberation Sans" font-size="10.2" textLength="47.10" lengthAdjust="spacingAndGlyphs" fill="#000">-300.000</text>
<text x="10.80" y="566.3" font-family="Liberation Sans" font-size="10.2" textLength="47.10" lengthAdjust="spacingAndGlyphs" fill="#000">-350.000</text>
<text x="10.80" y="594.4" font-family="Liberation Sans" font-size="10.2" textLength="47.10" lengthAdjust="spacingAndGlyphs" fill="#000">-400.000</text>
<text transform="translate(75.25,448) rotate(-90)" font-family="Liberation Sans" font-size="14.42" textLength="72.5" lengthAdjust="spacingAndGlyphs" fill="#ac9c6a" stroke="#ac9c6a" stroke-width="0.25">30.07.2013</text>
<text transform="translate(91.71,448) rotate(-90)" font-family="Liberation Sans" font-size="14.42" textLength="72.5" lengthAdjust="spacingAndGlyphs" fill="#ac9c6a" stroke="#ac9c6a" stroke-width="0.25">18.09.2013</text>
<text transform="translate(108.17,448) rotate(-90)" font-family="Liberation Sans" font-size="14.42" textLength="72.5" lengthAdjust="spacingAndGlyphs" fill="#ac9c6a" stroke="#ac9c6a" stroke-width="0.25">07.11.2013</text>
<text transform="translate(124.63,448) rotate(-90)" font-family="Liberation Sans" font-size="14.42" textLength="72.5" lengthAdjust="spacingAndGlyphs" fill="#ac9c6a" stroke="#ac9c6a" stroke-width="0.25">27.12.2013</text>
<text transform="translate(141.09,448) rotate(-90)" font-family="Liberation Sans" font-size="14.42" textLength="72.5" lengthAdjust="spacingAndGlyphs" fill="#ac9c6a" stroke="#ac9c6a" stroke-width="0.25">15.02.2014</text>
<text transform="translate(157.55,448) rotate(-90)" font-family="Liberation Sans" font-size="14.42" textLength="72.5" lengthAdjust="spacingAndGlyphs" fill="#ac9c6a" stroke="#ac9c6a" stroke-width="0.25">06.04.2014</text>
<text transform="translate(174.01,448) rotate(-90)" font-family="Liberation Sans" font-size="14.42" textLength="72.5" lengthAdjust="spacingAndGlyphs" fill="#ac9c6a" stroke="#ac9c6a" stroke-width="0.25">26.05.2014</text>
<text transform="translate(190.47,448) rotate(-90)" font-family="Liberation Sans" font-size="14.42" textLength="72.5" lengthAdjust="spacingAndGlyphs" fill="#ac9c6a" stroke="#ac9c6a" stroke-width="0.25">15.07.2014</text>
<text transform="translate(206.93,448) rotate(-90)" font-family="Liberation Sans" font-size="14.42" textLength="72.5" lengthAdjust="spacingAndGlyphs" fill="#ac9c6a" stroke="#ac9c6a" stroke-width="0.25">03.09.2014</text>
<text transform="translate(223.39,448) rotate(-90)" font-family="Liberation Sans" font-size="14.42" textLength="72.5" lengthAdjust="spacingAndGlyphs" fill="#ac9c6a" stroke="#ac9c6a" stroke-width="0.25">23.10.2014</text>
<text transform="translate(239.85,448) rotate(-90)" font-family="Liberation Sans" font-size="14.42" textLength="72.5" lengthAdjust="spacingAndGlyphs" fill="#ac9c6a" stroke="#ac9c6a" stroke-width="0.25">12.12.2014</text>
<text transform="translate(256.31,448) rotate(-90)" font-family="Liberation Sans" font-size="14.42" textLength="72.5" lengthAdjust="spacingAndGlyphs" fill="#ac9c6a" stroke="#ac9c6a" stroke-width="0.25">31.01.2015</text>
<text transform="translate(272.77,448) rotate(-90)" font-family="Liberation Sans" font-size="14.42" textLength="72.5" lengthAdjust="spacingAndGlyphs" fill="#ac9c6a" stroke="#ac9c6a" stroke-width="0.25">22.03.2015</text>
<text transform="translate(289.23,448) rotate(-90)" font-family="Liberation Sans" font-size="14.42" textLength="72.5" lengthAdjust="spacingAndGlyphs" fill="#ac9c6a" stroke="#ac9c6a" stroke-width="0.25">11.05.2015</text>
<text transform="translate(305.69,448) rotate(-90)" font-family="Liberation Sans" font-size="14.42" textLength="72.5" lengthAdjust="spacingAndGlyphs" fill="#ac9c6a" stroke="#ac9c6a" stroke-width="0.25">30.06.2015</text>
<text transform="translate(322.15,448) rotate(-90)" font-family="Liberation Sans" font-size="14.42" textLength="72.5" lengthAdjust="spacingAndGlyphs" fill="#ac9c6a" stroke="#ac9c6a" stroke-width="0.25">19.08.2015</text>
<text transform="translate(338.61,448) rotate(-90)" font-family="Liberation Sans" font-size="14.42" textLength="72.5" lengthAdjust="spacingAndGlyphs" fill="#ac9c6a" stroke="#ac9c6a" stroke-width="0.25">08.10.2015</text>
<text transform="translate(355.07,448) rotate(-90)" font-family="Liberation Sans" font-size="14.42" textLength="72.5" lengthAdjust="spacingAndGlyphs" fill="#ac9c6a" stroke="#ac9c6a" stroke-width="0.25">27.11.2015</text>
<text transform="translate(371.53,448) rotate(-90)" font-family="Liberation Sans" font-size="14.42" textLength="72.5" lengthAdjust="spacingAndGlyphs" fill="#ac9c6a" stroke="#ac9c6a" stroke-width="0.25">16.01.2016</text>
<text transform="translate(387.99,448) rotate(-90)" font-family="Liberation Sans" font-size="14.42" textLength="72.5" lengthAdjust="spacingAndGlyphs" fill="#ac9c6a" stroke="#ac9c6a" stroke-width="0.25">06.03.2016</text>
<text transform="translate(404.45,448) rotate(-90)" font-family="Liberation Sans" font-size="14.42" textLength="72.5" lengthAdjust="spacingAndGlyphs" fill="#ac9c6a" stroke="#ac9c6a" stroke-width="0.25">25.04.2016</text>
<text transform="translate(420.91,448) rotate(-90)" font-family="Liberation Sans" font-size="14.42" textLength="72.5" lengthAdjust="spacingAndGlyphs" fill="#ac9c6a" stroke="#ac9c6a" stroke-width="0.25">14.06.2016</text>
<text transform="translate(437.37,448) rotate(-90)" font-family="Liberation Sans" font-size="14.42" textLength="72.5" lengthAdjust="spacingAndGlyphs" fill="#ac9c6a" stroke="#ac9c6a" stroke-width="0.25">03.08.2016</text>
<text transform="translate(453.83,448) rotate(-90)" font-family="Liberation Sans" font-size="14.42" textLength="72.5" lengthAdjust="spacingAndGlyphs" fill="#ac9c6a" stroke="#ac9c6a" stroke-width="0.25">22.09.2016</text>
<text transform="translate(470.29,448) rotate(-90)" font-family="Liberation Sans" font-size="14.42" textLength="72.5" lengthAdjust="spacingAndGlyphs" fill="#ac9c6a" stroke="#ac9c6a" stroke-width="0.25">11.11.2016</text>
<text transform="translate(486.75,448) rotate(-90)" font-family="Liberation Sans" font-size="14.42" textLength="72.5" lengthAdjust="spacingAndGlyphs" fill="#ac9c6a" stroke="#ac9c6a" stroke-width="0.25">31.12.2016</text>
<text transform="translate(503.21,448) rotate(-90)" font-family="Liberation Sans" font-size="14.42" textLength="72.5" lengthAdjust="spacingAndGlyphs" fill="#ac9c6a" stroke="#ac9c6a" stroke-width="0.25">19.02.2017</text>
<text transform="translate(519.67,448) rotate(-90)" font-family="Liberation Sans" font-size="14.42" textLength="72.5" lengthAdjust="spacingAndGlyphs" fill="#ac9c6a" stroke="#ac9c6a" stroke-width="0.25">10.04.2017</text>
<text transform="translate(536.13,448) rotate(-90)" font-family="Liberation Sans" font-size="14.42" textLength="72.5" lengthAdjust="spacingAndGlyphs" fill="#ac9c6a" stroke="#ac9c6a" stroke-width="0.25">30.05.2017</text>
<text transform="translate(552.59,448) rotate(-90)" font-family="Liberation Sans" font-size="14.42" textLength="72.5" lengthAdjust="spacingAndGlyphs" fill="#ac9c6a" stroke="#ac9c6a" stroke-width="0.25">19.07.2017</text>
<text transform="translate(569.05,448) rotate(-90)" font-family="Liberation Sans" font-size="14.42" textLength="72.5" lengthAdjust="spacingAndGlyphs" fill="#ac9c6a" stroke="#ac9c6a" stroke-width="0.25">07.09.2017</text>
<text transform="translate(585.51,448) rotate(-90)" font-family="Liberation Sans" font-size="14.42" textLength="72.5" lengthAdjust="spacingAndGlyphs" fill="#ac9c6a" stroke="#ac9c6a" stroke-width="0.25">27.10.2017</text>
<text transform="translate(601.97,448) rotate(-90)" font-family="Liberation Sans" font-size="14.42" textLength="72.5" lengthAdjust="spacingAndGlyphs" fill="#ac9c6a" stroke="#ac9c6a" stroke-width="0.25">16.12.2017</text>
<text transform="translate(618.43,448) rotate(-90)" font-family="Liberation Sans" font-size="14.42" textLength="72.5" lengthAdjust="spacingAndGlyphs" fill="#ac9c6a" stroke="#ac9c6a" stroke-width="0.25">04.02.2018</text>
<text transform="translate(634.89,448) rotate(-90)" font-family="Liberation Sans" font-size="14.42" textLength="72.5" lengthAdjust="spacingAndGlyphs" fill="#ac9c6a" stroke="#ac9c6a" stroke-width="0.25">26.03.2018</text>
<rect x="91" y="141" width="103.7" height="64.7" fill="url(#lg)"/>
<rect x="91" y="141" width="103.7" height="3.6" fill="#d6bc80"/>
<rect x="91" y="141" width="3.6" height="64.7" fill="#bf9848" opacity="0.7"/>
<rect x="91" y="201.9" width="103.7" height="3.8" fill="url(#lgb)"/>
<rect x="191.2" y="141" width="3.5" height="64.7" fill="url(#lgr)"/>
<path d="M118.2,164.4 C119.4,161.6 117.4,160.2 114.2,160.7 C108.4,161.5 101.4,166.4 98.6,172.4 C96.6,176.8 97.6,180.9 101.4,180.7 C104.6,180.5 107.6,176.4 111.2,174.2 M110.9,174.4 C110.4,178.8 109.6,183 108.8,187.2" fill="none" stroke="#fff" stroke-width="2.2" stroke-linecap="round"/>
<text x="113.1" y="178.6" font-family="Liberation Sans" font-style="italic" font-weight="bold" font-size="14.04" textLength="75.01" lengthAdjust="spacingAndGlyphs" fill="#fff" stroke="#fff" stroke-width="0.35">oldreporter.de</text>
<text x="203.6" y="205.5" font-family="Liberation Sans" font-weight="bold" font-size="19.99" textLength="191.6" lengthAdjust="spacingAndGlyphs" fill="#000">Große Spekulanten</text>
<text x="242.3" y="508.7" font-family="Liberation Sans" font-weight="bold" font-size="21.5" textLength="128.35" lengthAdjust="spacingAndGlyphs" fill="#e00000">Commercials</text>
<text transform="translate(652.4,250.3) rotate(90)" font-family="Liberation Sans" font-size="12.82" textLength="30.63" lengthAdjust="spacingAndGlyphs" fill="#595959">Long</text>
<text transform="translate(657.6,440.9) rotate(90)" font-family="Liberation Sans" font-weight="bold" font-size="12.82" textLength="33.98" lengthAdjust="spacingAndGlyphs" fill="#c00000">Short</text>
</svg>
</body></html>
